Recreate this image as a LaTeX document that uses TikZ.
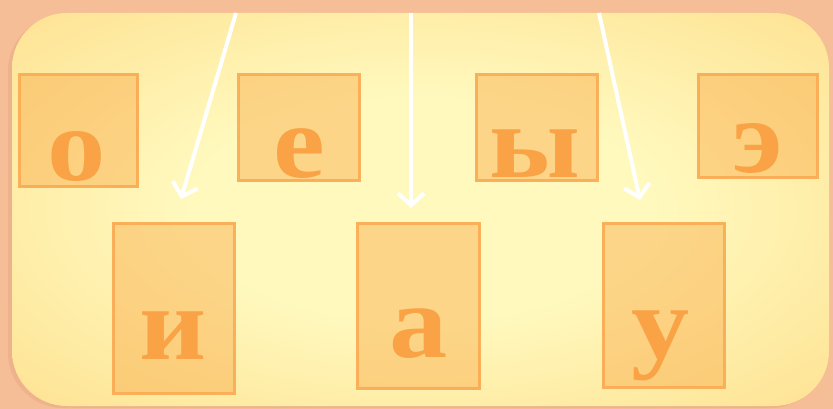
\documentclass[tikz,border=0pt]{standalone}
\usepackage{fontspec}
\setmainfont{Liberation Serif}
\newfontfamily\lettfont[FakeStretch=1.12]{Liberation Serif}
\usetikzlibrary{arrows.meta,fadings}
\definecolor{bgpeach}{HTML}{F6BE96}
\definecolor{shadowc}{HTML}{E0A07A}
\definecolor{pcenter}{HTML}{FFF9BE}
\definecolor{pmid}{HTML}{FEE69A}
\definecolor{pedge}{HTML}{FDCB72}
\definecolor{pcorner}{HTML}{FBBA5C}
\definecolor{boxfill}{HTML}{F9A540}
\definecolor{boxline}{HTML}{FAAA52}
\definecolor{lettc}{HTML}{F9A346}
\pgfdeclareradialshading{panelglow}{\pgfpoint{0bp}{0bp}}{color(0bp)=(pcenter); color(14bp)=(pcenter); color(32bp)=(pmid); color(50bp)=(pedge); color(72bp)=(pcorner)}
\tikzfading[name=fadeboth, left color=transparent!100, middle color=transparent!0, right color=transparent!100]
\tikzset{
  lbox/.style={rectangle, draw=boxline, line width=3pt, fill=boxfill, fill opacity=0.42, draw opacity=0.9, inner sep=0pt},
  lett/.style={text=lettc, font=\lettfont\fontsize{104}{104}\selectfont\bfseries, inner sep=0pt, anchor=base},
  warr/.style={draw=white, line width=4pt, -{Straight Barb[length=12pt, width=26pt, line width=4pt]}}
}
\begin{document}
\begin{tikzpicture}[x=1pt, y=-1pt]
\useasboundingbox (0,0) rectangle (833,409);
\fill[bgpeach] (0,0) rectangle (833,409);
% shadow
\fill[shadowc, opacity=0.35, rounded corners=55pt] (8,16) rectangle (826,408);
% panel
\shade[shading=panelglow, rounded corners=55pt] (12,13) rectangle (829,406);
% glossy highlights
\fill[white, path fading=fadeboth, fill opacity=0.75] (60,14) rectangle (780,24);
\fill[white, path fading=fadeboth, fill opacity=0.7] (90,398) rectangle (770,404);
% boxes
\node[lbox, minimum width=118pt, minimum height=112pt] (bo) at (78.5,131) {};
\node[lbox, minimum width=121pt, minimum height=106pt] (be) at (299,128) {};
\node[lbox, minimum width=121pt, minimum height=106pt] (by) at (536.5,128) {};
\node[lbox, minimum width=119pt, minimum height=103pt] (bee) at (757.5,126.5) {};
\node[lbox, minimum width=121pt, minimum height=170pt] (bi) at (173.5,308) {};
\node[lbox, minimum width=122pt, minimum height=165pt] (ba) at (418.5,305.5) {};
\node[lbox, minimum width=121pt, minimum height=164pt] (bu) at (663.5,305) {};
% letters
\node[lett] (lo) at (77,181) {о};
\node[lett] (le) at (299,178) {е};
\node[lett] (ly) at (535,178) {ы};
\node[lett] (lee) at (758,173) {э};
\node[lett] (li) at (173,359) {и};
\node[lett] (la) at (419,357) {а};
\node[lett] (lu) at (661,358) {у};
% arrows
\coordinate (s1) at (236,13);
\coordinate (e1) at (181,199);
\coordinate (s2) at (411,13);
\coordinate (e2) at (411,208);
\coordinate (s3) at (599,13);
\coordinate (e3) at (640,200);
\draw[warr] (s1) -- (e1);
\draw[warr] (s2) -- (e2);
\draw[warr] (s3) -- (e3);
\end{tikzpicture}
\end{document}
